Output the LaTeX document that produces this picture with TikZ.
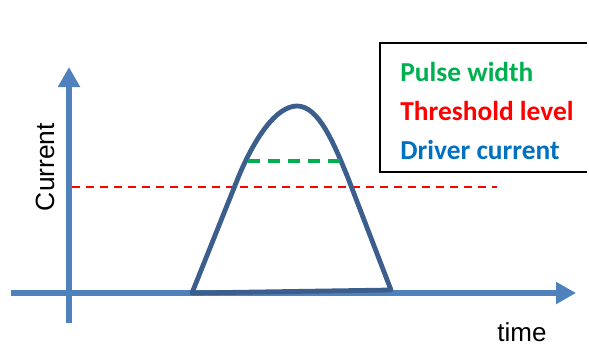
\documentclass[tikz,border=0pt]{standalone}
\usepackage{fontspec}
\setmainfont{Liberation Sans}
\newfontfamily\legendfont{Carlito}
\usepackage{xcolor}
\usetikzlibrary{arrows.meta}
\definecolor{axisblue}{HTML}{4F81BD}
\definecolor{pulseblue}{HTML}{3B5E8C}
\definecolor{pwgreen}{HTML}{00B050}
\definecolor{drvblue}{HTML}{0070C0}
\tikzset{
  axis/.style={axisblue,line width=3pt,-{Triangle[width=10.5pt,length=10pt]}},
  legendtext/.style={anchor=west,font=\legendfont\bfseries\fontsize{13.7}{15}\selectfont,inner sep=0pt}
}
\begin{document}
\begin{tikzpicture}[x=0.5pt,y=-0.5pt]
\useasboundingbox (0,0) rectangle (589,345);
\draw[axis](11,293)--(576,293);
\draw[axis](69,323)--(69,67);
\draw[red,line width=0.6pt,dash pattern=on 4pt off 3pt](72,187)--(497,187);
\draw[pulseblue,line width=2.4pt,line join=round](192,293)--(238,178)
 ..controls(254,139)and(276,106)..(297,106)
 ..controls(318,106)and(333,141)..(348,178)--(391,290)--cycle;
\draw[pwgreen,line width=1.8pt,dash pattern=on 6pt off 4pt](248,161)--(342,161);
\draw[line width=1pt](587,43)--(380,43)--(380,172)--(587,172);
\node[legendtext,pwgreen] (pw) at (400,72) {Pulse width};
\node[legendtext,red] (th) at (400,111) {Threshold level};
\node[legendtext,drvblue] (dc) at (400,150) {Driver current};
\node[rotate=90,font=\fontsize{13.2}{15}\selectfont] (cur) at (45,167) {Current};
\node[font=\fontsize{13}{15}\selectfont] (tm) at (522,332) {time};
\end{tikzpicture}
\end{document}
